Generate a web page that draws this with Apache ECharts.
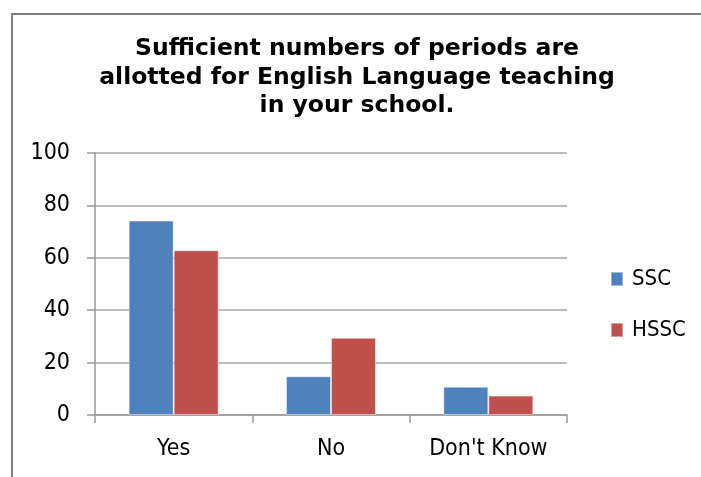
<!DOCTYPE html>
<html>
<head>
<meta charset="utf-8">
<script src="https://cdn.jsdelivr.net/npm/echarts@6/dist/echarts.min.js"></script>
<style>html,body{margin:0;padding:0;background:#fff;}#c{width:701px;height:477px;}</style>
</head>
<body>
<div id="c"></div>
<script>
const titleText = "Sufficient numbers of periods are\nallotted for English Language teaching\nin your school.";
const categories = ["Yes", "No", "Don't Know"];
const seriesNames = ["SSC", "HSSC"];
const ssc = [74.2, 14.8, 10.8];
const hssc = [62.9, 29.5, 7.4];
const yTicks = [0, 20, 40, 60, 80, 100];

const chart = echarts.init(document.getElementById('c'), null, {renderer: 'canvas'});
const titleFont = "'DejaVu Sans', Verdana, sans-serif";
const font = "'DejaVu Sans Condensed', 'Liberation Sans Narrow', sans-serif";
chart.setOption({
  animation: false,
  backgroundColor: '#fff',
  title: {
    text: titleText,
    left: 352, top: 30, textAlign: 'center',
    textStyle: {fontFamily: titleFont, fontWeight: 'bold', fontSize: 23.5, lineHeight: 28.5, color: '#000'}
  },
  graphic: [{
    type: 'rect', shape: {x: 12, y: 14, width: 760, height: 520},
    style: {fill: 'none', stroke: '#7f7f7f', lineWidth: 2}, silent: true, z: 100
  }],
  legend: {
    orient: 'vertical', left: 610, top: 268, itemGap: 29, padding: 0,
    itemWidth: 12, itemHeight: 14, icon: 'rect',
    textStyle: {fontFamily: font, fontSize: 22, lineHeight: 22, color: '#000', padding: [0, 0, 0, 4]},
    data: seriesNames
  },
  grid: {left: 95, right: 134, top: 153, bottom: 62, containLabel: false},
  xAxis: {
    type: 'category', data: categories,
    axisLine: {lineStyle: {color: '#9a9a9a', width: 1.5}},
    axisTick: {show: true, alignWithLabel: false, length: 8, lineStyle: {color: '#9a9a9a', width: 1.5}},
    axisLabel: {fontFamily: font, fontSize: 23, color: '#000', margin: 23}
  },
  yAxis: {
    type: 'value', min: 0, max: 100, interval: 20,
    axisLine: {show: true, lineStyle: {color: '#9a9a9a', width: 1.5}},
    axisTick: {show: true, length: 8, lineStyle: {color: '#9a9a9a', width: 1.5}},
    splitLine: {lineStyle: {color: '#a6a6a6', width: 1.5}},
    axisLabel: {fontFamily: font, fontSize: 23, color: '#000', margin: 25,
      formatter: v => yTicks.includes(v) ? String(v) : ''}
  },
  series: [
    {name: seriesNames[0], type: 'bar', data: ssc, barWidth: 45, barGap: '0%',
     itemStyle: {color: '#4F81BD', borderColor: 'rgba(255,255,255,0.45)', borderWidth: 1}},
    {name: seriesNames[1], type: 'bar', data: hssc, barWidth: 45, barGap: '0%',
     itemStyle: {color: '#C0504D', borderColor: 'rgba(255,255,255,0.45)', borderWidth: 1}}
  ]
});
</script>
</body>
</html>
